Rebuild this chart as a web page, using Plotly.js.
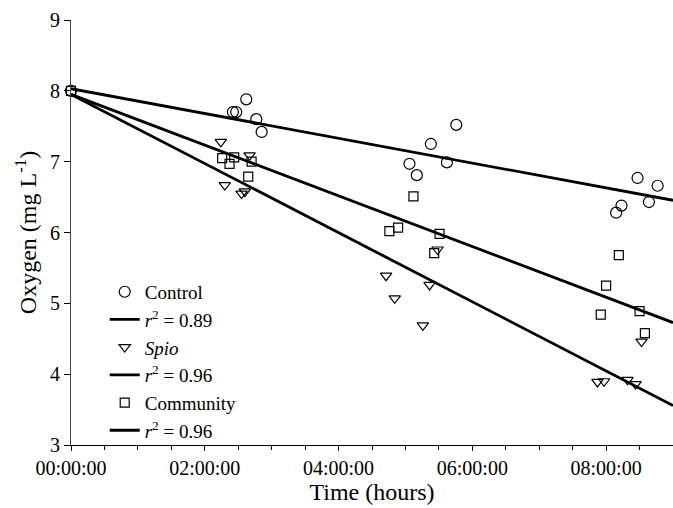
<!DOCTYPE html>
<html>
<head>
<meta charset="utf-8">
<script src="https://cdn.plot.ly/plotly-3.0.1.min.js"></script>
<style>html,body{margin:0;padding:0;background:#fff;}#chart{width:673px;height:508px;}</style>
</head>
<body>
<div id="chart"></div>
<script>
// Time in hours, oxygen in mg/L
const controlT = [0, 2.42, 2.47, 2.62, 2.77, 2.85, 5.06, 5.17, 5.38, 5.62, 5.76, 8.15, 8.23, 8.47, 8.64, 8.77];
const controlO = [8.0, 7.70, 7.70, 7.88, 7.60, 7.42, 6.97, 6.81, 7.25, 6.99, 7.52, 6.28, 6.38, 6.77, 6.43, 6.66];
const spioT = [2.24, 2.30, 2.55, 2.60, 2.67, 4.71, 4.84, 5.26, 5.36, 5.48, 7.87, 7.97, 8.32, 8.44, 8.53];
const spioO = [7.28, 6.67, 6.55, 6.58, 7.09, 5.39, 5.07, 4.69, 5.26, 5.76, 3.89, 3.90, 3.92, 3.86, 4.46];
const commT = [0, 2.26, 2.37, 2.44, 2.65, 2.70, 4.76, 4.89, 5.12, 5.43, 5.51, 7.92, 8.00, 8.19, 8.50, 8.58];
const commO = [8.0, 7.05, 6.97, 7.06, 6.79, 7.00, 6.02, 6.07, 6.51, 5.71, 5.98, 4.84, 5.25, 5.68, 4.89, 4.58];

// regression fits: intercept (mg/L) and slope (mg/L per hour)
const fitNames = ['<i>r</i><sup>2</sup> = 0.89', '<i>r</i><sup>2</sup> = 0.96', '<i>r</i><sup>2</sup> = 0.96'];
const fitIntercepts = [8.03, 7.95, 7.95];
const fitSlopes = [-0.175, -0.488, -0.358];
const fitDomain = [0, 9];

const tickVals = [0, 2, 4, 6, 8];
const tickText = ['00:00:00', '02:00:00', '04:00:00', '06:00:00', '08:00:00'];

const FONT = 'Liberation Serif';

function fitTrace(i) {
  return {
    x: fitDomain.slice(),
    y: fitDomain.map(t => fitIntercepts[i] + fitSlopes[i] * t),
    mode: 'lines', type: 'scatter', name: fitNames[i],
    line: {color: '#000', width: 2.8}
  };
}
function markerTrace(x, y, name, symbol, size) {
  return {
    x: x, y: y, mode: 'markers', type: 'scatter', name: name,
    marker: {symbol: symbol, size: size, color: '#000', line: {color: '#000', width: 1.2}},
    cliponaxis: false
  };
}

const data = [
  markerTrace(controlT, controlO, 'Control', 'circle-open', 11),
  fitTrace(0),
  markerTrace(spioT, spioO, '<i>Spio</i>', 'triangle-down-open', 10),
  fitTrace(1),
  markerTrace(commT, commO, 'Community', 'square-open', 9),
  fitTrace(2)
];

const layout = {
  width: 673, height: 508,
  margin: {l: 71, r: 0, t: 20, b: 63},
  paper_bgcolor: '#fff', plot_bgcolor: '#fff',
  font: {family: FONT, color: '#000', size: 19},
  showlegend: true,
  legend: {
    x: 0.056, xanchor: 'left', y: 0.405, yanchor: 'top',
    bgcolor: 'rgba(0,0,0,0)', borderwidth: 0,
    font: {family: FONT, size: 19, color: '#000'},
    tracegroupgap: 0
  },
  xaxis: {
    range: [0, 9], tickvals: tickVals, ticktext: tickText,
    showgrid: false, zeroline: false,
    showline: true, linecolor: '#000', linewidth: 1.3,
    ticks: 'outside', ticklen: 5, tickwidth: 1, tickcolor: '#000',
    minor: {dtick: 0.5, ticks: 'outside', ticklen: 4, tickcolor: '#000', showgrid: false},
    tickfont: {family: FONT, size: 20},
    title: {text: 'Time (hours)', font: {family: FONT, size: 24}, standoff: 3}
  },
  yaxis: {
    range: [3, 9], dtick: 1, tick0: 3,
    showgrid: false, zeroline: false,
    showline: true, linecolor: '#444', linewidth: 1,
    ticks: 'outside', ticklen: 6, tickwidth: 1, tickcolor: '#000',
    tickfont: {family: FONT, size: 20},
    title: {text: 'Oxygen (mg L<sup>-1</sup>)', font: {family: FONT, size: 24}, standoff: 6}
  }
};

Plotly.newPlot('chart', data, layout, {displayModeBar: false, staticPlot: true});
</script>
</body>
</html>
